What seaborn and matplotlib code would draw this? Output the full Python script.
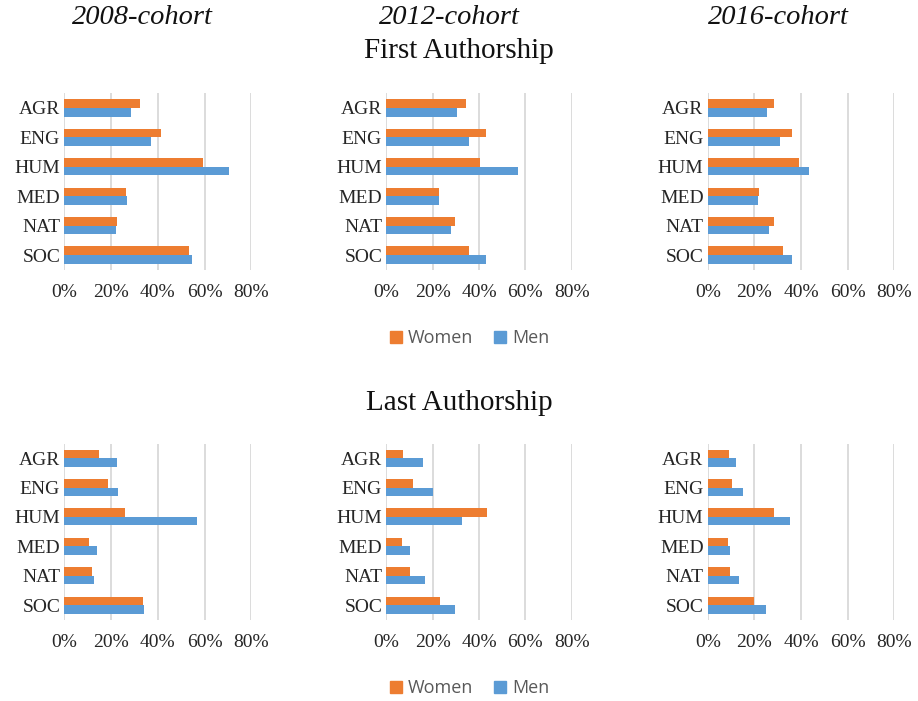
import numpy as np
import pandas as pd
import matplotlib
matplotlib.use("Agg")
import matplotlib.pyplot as plt
from matplotlib.lines import Line2D
from matplotlib.ticker import PercentFormatter
import seaborn as sns

# Data (in %)
fields = ["AGR", "ENG", "HUM", "MED", "NAT", "SOC"]
cohorts = ["2008-cohort", "2012-cohort", "2016-cohort"]
genders = ["Women", "Men"]

first_women_2008 = [32.5, 41.2, 59.2, 26.4, 22.5, 53.5]
first_men_2008 = [28.5, 37.1, 70.4, 26.8, 22.1, 54.8]
first_women_2012 = [34.2, 42.9, 40.4, 22.7, 29.6, 35.8]
first_men_2012 = [30.4, 35.7, 56.7, 22.9, 27.9, 43.2]
first_women_2016 = [28.4, 36.0, 39.1, 22.0, 28.6, 32.4]
first_men_2016 = [25.4, 30.9, 43.6, 21.6, 26.1, 36.3]

last_women_2008 = [15.0, 18.7, 25.8, 10.6, 11.7, 33.6]
last_men_2008 = [22.6, 23.0, 56.7, 14.0, 12.7, 34.3]
last_women_2012 = [7.2, 11.6, 43.5, 6.9, 10.3, 23.3]
last_men_2012 = [15.9, 20.3, 32.5, 10.4, 16.9, 29.5]
last_women_2016 = [9.3, 10.4, 28.6, 8.7, 9.7, 19.9]
last_men_2016 = [12.3, 15.3, 35.3, 9.7, 13.5, 24.8]

women_color = "#ED7D31"
men_color = "#5B9BD5"
serif = ["Liberation Serif", "DejaVu Serif"]

panels = {
    ("First", "2008-cohort"): (first_women_2008, first_men_2008),
    ("First", "2012-cohort"): (first_women_2012, first_men_2012),
    ("First", "2016-cohort"): (first_women_2016, first_men_2016),
    ("Last", "2008-cohort"): (last_women_2008, last_men_2008),
    ("Last", "2012-cohort"): (last_women_2012, last_men_2012),
    ("Last", "2016-cohort"): (last_women_2016, last_men_2016),
}

rows = []
for (role, cohort), (w, m) in panels.items():
    for f, wv, mv in zip(fields, w, m):
        rows.append({"role": role, "cohort": cohort, "field": f, "gender": "Women", "share": wv})
        rows.append({"role": role, "cohort": cohort, "field": f, "gender": "Men", "share": mv})
df = pd.DataFrame(rows)

sns.set_style("white")
plt.rcParams["font.family"] = serif

W, H = 918, 701
fig = plt.figure(figsize=(W / 100, H / 100), dpi=100)

# axes boxes in pixels: (left, right) per column, (top, bottom) per row
col_px = [(64.3, 251.3), (386.3, 571.7), (707.7, 894.3)]
row_px = [(93.3, 269.7), (443.6, 619.7)]

for r, role in enumerate(["First", "Last"]):
    for c, cohort in enumerate(cohorts):
        l, rr = col_px[c]
        t, b = row_px[r]
        ax = fig.add_axes([l / W, 1 - b / H, (rr - l) / W, (b - t) / H])
        sub = df[(df.role == role) & (df.cohort == cohort)]
        sns.barplot(data=sub, x="share", y="field", hue="gender", order=fields,
                    hue_order=genders, palette=[women_color, men_color],
                    orient="h", width=0.58, ax=ax, legend=False, saturation=1,
                    linewidth=0)
        ax.set_xlim(0, 80)
        ax.set_ylim(5.5, -0.5)
        ax.set_xticks([0, 20, 40, 60, 80])
        ax.xaxis.set_major_formatter(PercentFormatter(decimals=0))
        ax.grid(axis="x", color="#D9D9D9", linewidth=1.3)
        ax.set_axisbelow(True)
        for s in ax.spines.values():
            s.set_visible(False)
        ax.set_xlabel("")
        ax.set_ylabel("")
        ax.tick_params(axis="both", length=0, labelsize=14, labelcolor="#262626")
        ax.tick_params(axis="x", pad=10)
        ax.tick_params(axis="y", pad=3)

# titles
for x, cohort in zip([142, 449, 778], cohorts):
    fig.text(x / W, 1 - 18 / H, cohort, ha="center", va="center",
             fontsize=20.5, style="italic", family=serif, color="#111111")
fig.text(459 / W, 1 - 51 / H, "First Authorship", ha="center", va="center",
         fontsize=21, family=serif, color="#111111")
fig.text(459 / W, 1 - 403 / H, "Last Authorship", ha="center", va="center",
         fontsize=21, family=serif, color="#111111")

# legends
handles = [Line2D([], [], marker="s", linestyle="", markersize=9, color=women_color),
           Line2D([], [], marker="s", linestyle="", markersize=9, color=men_color)]
for y in [338, 688]:
    fig.legend(handles, genders, loc="center", bbox_to_anchor=(467 / W, 1 - y / H),
               ncol=2, frameon=False, handletextpad=0.05, columnspacing=0.9,
               handlelength=1.2,
               prop={"family": ["Open Sans", "DejaVu Sans"], "size": 13},
               labelcolor="#595959")

fig.savefig("out.png", dpi=100)
